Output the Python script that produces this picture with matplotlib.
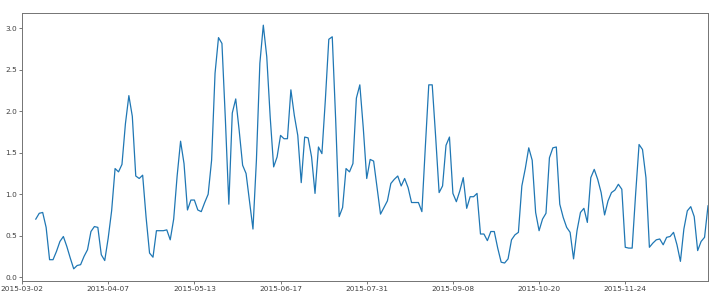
import numpy as np
import matplotlib
matplotlib.use('Agg')
import matplotlib.pyplot as plt

# тики по оси x: каждая 25-я точка ряда
tick_labels = ['2015-03-02', '2015-04-07', '2015-05-13', '2015-06-17',
               '2015-07-31', '2015-09-08', '2015-10-20', '2015-11-24']
tick_step = 25

# первые 4 значения пустые (NaN)
values = [np.nan, np.nan, np.nan, np.nan,
          0.70, 0.77, 0.78, 0.60, 0.21, 0.21, 0.31, 0.43, 0.49, 0.37,
          0.23, 0.10, 0.14, 0.15, 0.25, 0.33, 0.55, 0.61, 0.60, 0.27,
          0.20, 0.47, 0.80, 1.31, 1.27, 1.36, 1.85, 2.19, 1.94, 1.22,
          1.19, 1.23, 0.72, 0.29, 0.24, 0.56, 0.56, 0.56, 0.57, 0.45,
          0.70, 1.22, 1.64, 1.37, 0.81, 0.93, 0.93, 0.81, 0.79, 0.90,
          1.00, 1.41, 2.46, 2.89, 2.82, 1.90, 0.88, 1.98, 2.15, 1.77,
          1.35, 1.25, 0.92, 0.58, 1.41, 2.58, 3.04, 2.66, 1.93, 1.33,
          1.45, 1.71, 1.67, 1.67, 2.26, 1.95, 1.71, 1.14, 1.69, 1.68,
          1.45, 1.01, 1.57, 1.49, 2.14, 2.87, 2.90, 1.89, 0.73, 0.84,
          1.31, 1.27, 1.37, 2.16, 2.32, 1.80, 1.19, 1.42, 1.40, 1.08,
          0.76, 0.84, 0.92, 1.13, 1.18, 1.22, 1.10, 1.19, 1.08, 0.90,
          0.90, 0.90, 0.79, 1.57, 2.32, 2.32, 1.69, 1.02, 1.10, 1.59,
          1.69, 1.01, 0.91, 1.04, 1.20, 0.83, 0.97, 0.97, 1.01, 0.52,
          0.52, 0.44, 0.55, 0.55, 0.35, 0.18, 0.17, 0.22, 0.45, 0.51,
          0.54, 1.10, 1.31, 1.56, 1.41, 0.78, 0.56, 0.70, 0.77, 1.44,
          1.56, 1.57, 0.88, 0.72, 0.60, 0.54, 0.22, 0.56, 0.78, 0.83,
          0.66, 1.20, 1.30, 1.18, 1.02, 0.75, 0.92, 1.02, 1.05, 1.12,
          1.06, 0.36, 0.35, 0.35, 1.00, 1.60, 1.54, 1.20, 0.36, 0.41,
          0.45, 0.46, 0.39, 0.48, 0.49, 0.54, 0.39, 0.19, 0.58, 0.80,
          0.85, 0.73, 0.32, 0.43, 0.48, 0.86]

x = np.arange(len(values))

fig = plt.figure(figsize=(7.2, 3.05), dpi=100)
ax = fig.add_axes([22/720, 1 - 281/305, 686/720, 268/305])
ax.plot(x, values, color='#1f77b4', linewidth=0.9)

ax.set_xlim(0, len(values) - 1)
ax.margins(y=0.05)
ax.set_xticks(x[::tick_step][:len(tick_labels)])
ax.set_xticklabels(tick_labels)
ax.set_yticks(np.arange(0, 3.01, 0.5))

ax.tick_params(labelsize=5.3, length=2, width=0.5, pad=1.5, colors='0.25')
for s in ax.spines.values():
    s.set_linewidth(0.7)
    s.set_color('0.45')

fig.savefig('out.png', dpi=100)
